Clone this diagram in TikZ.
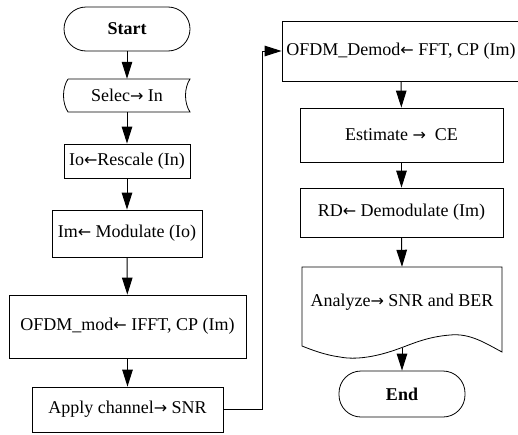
\documentclass[tikz,border=0pt]{standalone}
\usepackage{fontspec}
\setmainfont{Liberation Serif}
\newfontfamily\arrfont{DejaVu Sans}
\newcommand\myra{{\arrfont\fontsize{16}{18}\selectfont →}}
\newcommand\myla{{\arrfont\fontsize{16}{18}\selectfont ←}}
\usetikzlibrary{arrows.meta}
\begin{document}
\begin{tikzpicture}[x=1pt,y=-1pt,
  txt/.style={inner sep=0pt, align=center, font=\fontsize{18}{20}\selectfont},
  box/.style={txt, draw, line width=0.8pt},
  term/.style={box, rounded corners=22pt, font=\fontsize{18}{20}\selectfont\bfseries},
  outline/.style={line width=0.8pt},
  flow/.style={line width=1pt, -{Triangle[length=17pt,width=10.5pt]}}]
\useasboundingbox (0,0) rectangle (518,434);
% left column
\node[term, minimum width=126pt, minimum height=44pt] (start) at (127,29) {Start};
\node[txt, minimum width=126pt, minimum height=33pt] (sel) at (127,95.5) {Selec\myra\ In};
\draw[outline] (68,79) -- (190,79) .. controls (184,88) and (184,103) .. (190,112)
  -- (68,112) .. controls (62,103) and (62,88) .. (68,79);
\node[box, minimum width=126pt, minimum height=34pt] (resc) at (127,161) {Io\myla Rescale (In)};
\node[box, minimum width=150pt, minimum height=47pt] (modu) at (127,233.5) {Im\myla\ Modulate (Io)};
\node[box, minimum width=237pt, minimum height=63pt] (ofdm) at (127.5,326.5) {OFDM\_mod\myla\ IFFT, CP (Im)};
\node[box, minimum width=191pt, minimum height=45pt] (apply) at (127.5,409.5) {Apply channel\myra\ SNR};
% right column
\node[box, minimum width=238pt, minimum height=60pt] (demod) at (401,51) {OFDM\_Demod\myla\ FFT, CP (Im)};
\node[box, minimum width=203pt, minimum height=54pt] (est) at (401.5,135) {Estimate \myra\ \ CE};
\node[box, minimum width=203pt, minimum height=49pt] (rd) at (401.5,212.5) {RD\myla\ Demodulate (Im)};
\node[txt, minimum width=200pt, minimum height=70pt] (ana) at (402,302) {Analyze\myra\ SNR and BER};
\draw[outline] (302,267) -- (502,267) -- (502,352)
  .. controls (485,343) and (470,333) .. (450,335)
  .. controls (425,337) and (410,345) .. (395,350)
  .. controls (375,357) and (355,360) .. (340,357)
  .. controls (325,355) and (312,350) .. (302,346) -- cycle;
\coordinate (anab) at (402,348);
\node[term, minimum width=126pt, minimum height=46pt] (end) at (402,394) {End};
% connectors
\draw[flow] (start) -- (sel);
\draw[flow] (sel) -- (resc);
\draw[flow] (resc) -- (modu);
\draw[flow] (modu) -- (ofdm);
\draw[flow] (ofdm) -- (apply);
\draw[flow] (apply.east) -- ++(39,0) |- (demod.west);
\draw[flow] (demod) -- (est);
\draw[flow] (est) -- (rd);
\draw[flow] (rd.south) -- (ana.north);
\draw[flow] (anab) -- (end);
\end{tikzpicture}
\end{document}
